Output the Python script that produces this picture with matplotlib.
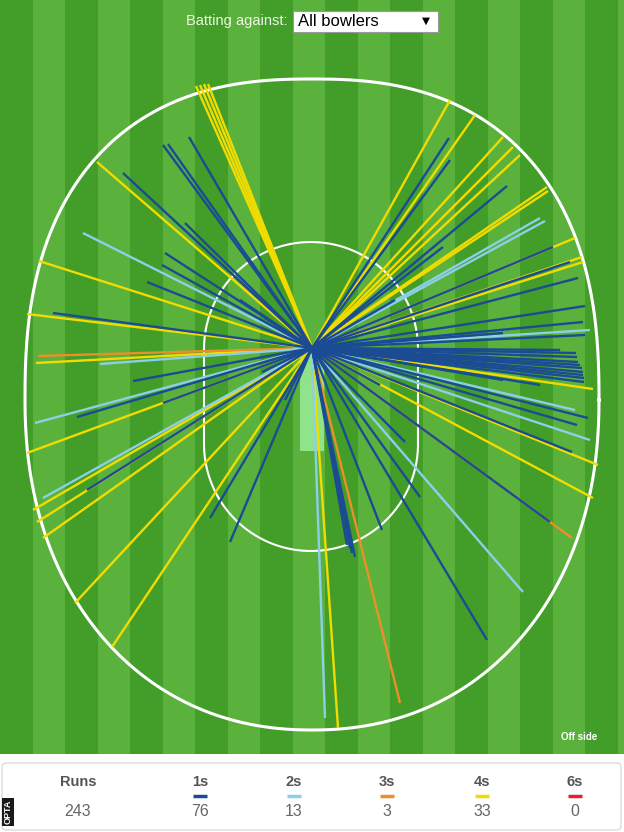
import numpy as np
import matplotlib.pyplot as plt
from matplotlib.patches import FancyBboxPatch, Rectangle

plt.rcParams['font.family'] = ['Liberation Sans', 'DejaVu Sans']

# --- data: landing points of each scoring shot, in field pixels (batsman at BAT) ---
BAT = (312, 348)

fours_x = [196, 200, 204, 208, 97, 39, 27, 36, 27, 33, 37, 43, 75, 112, 338,
           450, 475, 503, 513, 520, 547, 548, 575, 582, 583, 593, 598, 593]
fours_y = [86, 85, 84, 84, 162, 261, 314, 363, 453, 510, 522, 538, 603, 647, 728,
           100, 115, 137, 147, 155, 187, 191, 238, 257, 262, 389, 465, 498]

threes_x = [38, 572, 400]
threes_y = [356, 538, 703]

twos_x = [83, 35, 43, 100, 540, 545, 590, 575, 590, 523, 325]
twos_y = [233, 423, 498, 364, 218, 221, 330, 410, 440, 592, 718]

ones_x = [123, 163, 168, 189, 185, 165, 162, 147, 53, 133, 77, 163, 87,
          210, 230,
          352, 355, 350, 347, 382, 405, 420, 487,
          550, 572, 577, 588, 585, 583, 585, 503, 503,
          576, 577, 578, 580, 582, 583, 583, 584, 584, 560, 540,
          449, 450, 507, 443, 553, 570, 578,
          240, 265, 395, 380, 285, 262]
ones_y = [173, 145, 144, 137, 223, 253, 265, 282, 313, 381, 417, 403, 490,
          518, 542,
          553, 557, 548, 545, 530, 442, 497, 640,
          522, 452, 425, 418, 335, 322, 306, 333, 380,
          353, 357, 362, 365, 368, 372, 375, 378, 382, 350, 385,
          138, 160, 186, 247, 247, 262, 278,
          300, 318, 300, 385, 400, 372]

summary_labels = ['Runs', '1s', '2s', '3s', '4s', '6s']
summary_values = [243, 76, 13, 3, 33, 0]

colors = {'1s': '#1b4b93', '2s': '#8ccfe9', '3s': '#ec8f2a', '4s': '#f2dc00', '6s': '#e0232f'}
stripe_dark, stripe_light = '#429d29', '#5ab23d'

fig = plt.figure(figsize=(6.24, 8.32), dpi=100)
ax = fig.add_axes([0, 0, 1, 1])
ax.set_xlim(0, 624)
ax.set_ylim(832, 0)
ax.axis('off')

# grass stripes
stripe_w = 32.5
lefts = np.arange(0, 624, stripe_w)
ax.bar(lefts, 754, width=stripe_w, bottom=0, align='edge',
       color=[stripe_dark if i % 2 == 0 else stripe_light for i in range(len(lefts))], lw=0)

# boundary rope: superellipse-ish with different top/bottom shapes
t = np.linspace(0, 2 * np.pi, 800)
cx, cy, a = 312, 400, 287
ct, st = np.cos(t), np.sin(t)
n = np.where(st < 0, 2.45, 2.15)
b = np.where(st < 0, 321, 330)
bx = cx + a * np.sign(ct) * np.abs(ct) ** (2 / n)
by = cy + b * np.sign(st) * np.abs(st) ** (2 / n)
ax.plot(bx, by, color='white', lw=2.2, zorder=2)

# inner circle (stadium: two semicircles joined by straight sides)
r = 107
top = np.linspace(np.pi, 2 * np.pi, 200)
bot = np.linspace(0, np.pi, 200)
ix = np.concatenate([311 + r * np.cos(top), 311 + r * np.cos(bot)])
iy = np.concatenate([349 + r * np.sin(top), 444 + r * np.sin(bot)])
ix = np.append(ix, ix[0])
iy = np.append(iy, iy[0])
ax.plot(ix, iy, color='white', lw=1.5, zorder=2)

# pitch
ax.add_patch(Rectangle((300, 350), 24, 101, color='#8fe38b', lw=0, zorder=2))

# shots
for xs, ys, key in [(fours_x, fours_y, '4s'), (threes_x, threes_y, '3s'),
                    (twos_x, twos_y, '2s'), (ones_x, ones_y, '1s')]:
    for x, y in zip(xs, ys):
        ax.plot([BAT[0], x], [BAT[1], y], color=colors[key], lw=1.7,
                solid_capstyle='butt', zorder=3)

# header
ax.text(288, 21, 'Batting against:', color='#eef6e4', fontsize=10.5, ha='right', va='center')
ax.add_patch(Rectangle((293, 11), 145, 21, facecolor='white', edgecolor='#999999', lw=0.8, zorder=4))
ax.text(298, 21.5, 'All bowlers', color='black', fontsize=12, ha='left', va='center', zorder=5)
ax.text(426, 21, '▼', color='black', fontsize=7.5, ha='center', va='center', zorder=5,
        family='DejaVu Sans')
ax.text(597, 737, 'Off side', color='white', fontsize=7, fontweight='bold', ha='right', va='center')

# summary panel
ax.add_patch(FancyBboxPatch((2, 763), 619, 67, boxstyle='round,pad=0,rounding_size=4',
                            facecolor='white', edgecolor='#dcdcdc', lw=1))
xs_sum = [78, 200, 294, 387, 482, 575]
for i, (lab, val) in enumerate(zip(summary_labels, summary_values)):
    ax.text(xs_sum[i], 782, lab, color='#555555', fontsize=10.5, fontweight='bold',
            ha='center', va='center')
    ax.text(xs_sum[i], 812, str(val), color='#666666', fontsize=11.5, ha='center', va='center')
    if lab in colors:
        ax.plot([xs_sum[i] - 7, xs_sum[i] + 7], [796, 796], color=colors[lab], lw=2.5,
                solid_capstyle='butt')

ax.text(8, 812, 'OPTA', rotation=90, color='white', fontsize=6.5, fontweight='bold',
        ha='center', va='center',
        bbox=dict(facecolor='#1a1a1a', edgecolor='none', boxstyle='square,pad=0.2'))

fig.savefig('out.png', dpi=100)
